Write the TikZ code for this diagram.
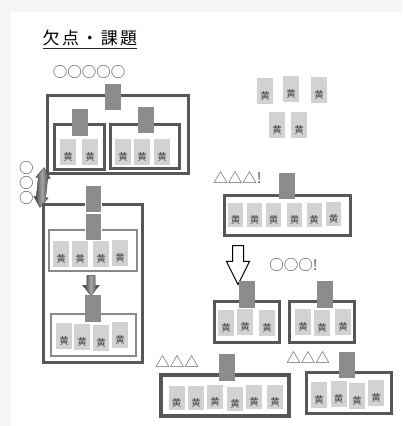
\documentclass[tikz,border=0pt]{standalone}
\usepackage{fontspec}
\setmainfont{Noto Sans CJK JP}
\usepackage{xcolor}
\usepackage{tikz}
\usetikzlibrary{shapes.arrows, positioning}

\definecolor{framegray}{HTML}{575757}
\definecolor{thingray}{HTML}{8A8A8A}
\definecolor{tabgray}{HTML}{8C8C8C}
\definecolor{cardgray}{HTML}{D2D2D2}
\definecolor{inkgray}{HTML}{404040}

\begin{document}
\begin{tikzpicture}[x=1pt, y=-1pt]
    \tikzstyle{box} = [rectangle, draw=framegray, line width=3pt, inner sep=0pt]
    \tikzstyle{subbox} = [rectangle, draw=thingray, line width=2.2pt, inner sep=0pt]
    \tikzstyle{tab} = [rectangle, fill=tabgray, minimum width=16, minimum height=26, inner sep=0pt]
    \tikzstyle{card} = [rectangle, fill=cardgray, minimum width=16, minimum height=26, inner sep=0pt, text=inkgray, font=\fontsize{9.5}{10}\selectfont, text height=17pt, text depth=1pt]
    \tikzstyle{remark} = [text=black!70, inner sep=0pt, font=\fontsize{14.5}{15}\selectfont]
    \tikzstyle{shadedarrow} = [draw=black!75, line width=0.4pt, left color=black!80, right color=black!80, middle color=black!35]

    % background
    \fill[black!4] (0,0) rectangle (402,426);
    \fill[white] (11,12) rectangle (402,426);
    \useasboundingbox (0,0) rectangle (402,426);

    % title
    \node [inner sep=0pt, font=\fontsize{17}{17}\selectfont\addfontfeatures{LetterSpace=14}] (title) at (90,38) {欠点・課題};
    \draw [black!85, line width=0.7pt] ([yshift=-4pt]title.base west) -- ([yshift=-4pt]title.base east);

    % group with two sub groups
    \node [remark] (circ5) at (89,72) {○○○○○};
    \node [box, minimum width=141, minimum height=78] (grp) at (117.5,134) {};
    \node [tab] (grptab) at (113,97) {};
    \node [box, minimum width=50, minimum height=45] (grpL) at (79,146.5) {};
    \node [tab, minimum height=27] (grpLtab) at (80,122.5) {};
    \node [card] (gl1) at (68,152) {黄};
    \node [card] (gl2) at (90,152) {黄};
    \node [box, minimum width=69, minimum height=44] (grpR) at (144.5,146) {};
    \node [tab] (grpRtab) at (146,120) {};
    \node [card] (gr1) at (123,152) {黄};
    \node [card] (gr2) at (142,152) {黄};
    \node [card] (gr3) at (162,152) {黄};

    % swap
    \node [remark, align=center] (circ3) at (26.5,182.5) {○\\○\\○};
    \node [double arrow, shadedarrow, rotate=84, minimum height=40, inner sep=4.5pt, double arrow head extend=2.5pt, double arrow tip angle=70] (swap) at (42,187.5) {};

    % stacked group
    \node [box, minimum width=99, minimum height=158] (stack) at (92.5,283) {};
    \node [tab, minimum height=27, draw=white, line width=0.8pt] (stacktab) at (93,198.5) {};
    \node [subbox, minimum width=88, minimum height=41] (stackA) at (93,250.5) {};
    \node [tab, minimum height=27, draw=white, line width=0.8pt] (stackAtab) at (93,226.5) {};
    \node [card] (sa1) at (61,254) {黄};
    \node [card] (sa2) at (80,254) {黄};
    \node [card] (sa3) at (101,254) {黄};
    \node [card] (sa4) at (120,253) {黄};
    \node [single arrow, shadedarrow, rotate=-90, minimum height=20, inner sep=4pt, single arrow head extend=4pt, single arrow tip angle=77] (move) at (91,283) {};
    \node [subbox, minimum width=85, minimum height=42] (stackB) at (93.5,335) {};
    \node [tab, minimum height=27] (stackBtab) at (93,308.5) {};
    \node [card] (sb1) at (64,336) {黄};
    \node [card] (sb2) at (82,337) {黄};
    \node [card] (sb3) at (101,338) {黄};
    \node [card] (sb4) at (120,335) {黄};

    % loose cards
    \node [card] (l1) at (265,91) {黄};
    \node [card] (l2) at (291,89) {黄};
    \node [card] (l3) at (319,90) {黄};
    \node [card] (l4) at (277,125) {黄};
    \node [card] (l5) at (299,125) {黄};

    % row of six
    \node [remark] (tri1) at (237.5,178) {△△△!};
    \node [box, minimum width=126, minimum height=40] (six) at (287,215) {};
    \node [tab] (sixtab) at (287,186) {};
    \node [card, minimum width=15, minimum height=24] (s1) at (235.5,215) {黄};
    \node [card, minimum width=15, minimum height=24] (s2) at (254.5,215) {黄};
    \node [card, minimum width=15, minimum height=24] (s3) at (273.5,215) {黄};
    \node [card, minimum width=15, minimum height=24] (s4) at (294.5,215) {黄};
    \node [card, minimum width=15, minimum height=24] (s5) at (314,215) {黄};
    \node [card, minimum width=15, minimum height=24] (s6) at (333.5,214) {黄};

    % split
    \node [single arrow, draw=black, fill=white, line width=1pt, rotate=-90, minimum height=39, inner sep=5pt, single arrow head extend=6pt, single arrow tip angle=53] (split) at (238,259.5) {};
    \node [remark] (circ3b) at (293.5,265) {○○○!};
    \node [box, minimum width=65, minimum height=41] (half1) at (246.5,321.5) {};
    \node [tab, minimum height=27] (half1tab) at (247,294.5) {};
    \node [card] (h1) at (226,323) {黄};
    \node [card] (h2) at (245,322) {黄};
    \node [card] (h3) at (267,323) {黄};
    \node [box, minimum width=65, minimum height=41] (half2) at (321.5,321.5) {};
    \node [tab, minimum height=27] (half2tab) at (325,294.5) {};
    \node [card] (h4) at (303,322) {黄};
    \node [card] (h5) at (322,323) {黄};
    \node [card] (h6) at (343,322) {黄};

    % bottom rows
    \node [remark] (tri2) at (177,362) {△△△};
    \node [box, line width=3.6pt, minimum width=128, minimum height=41] (low1) at (225,395.5) {};
    \node [tab, minimum height=27] (low1tab) at (227,367.5) {};
    \node [card, minimum height=24] (b1) at (176.5,398) {黄};
    \node [card, minimum height=24] (b2) at (196,398) {黄};
    \node [card, minimum height=24] (b3) at (215,397) {黄};
    \node [card, minimum height=24] (b4) at (235,399) {黄};
    \node [card, minimum height=24] (b5) at (254,397) {黄};
    \node [card, minimum height=24] (b6) at (275,397) {黄};
    \node [remark] (tri3) at (308,357.5) {△△△};
    \node [box, minimum width=85, minimum height=41] (low2) at (348.5,392.5) {};
    \node [tab] (low2tab) at (347,365) {};
    \node [card] (b7) at (319,395) {黄};
    \node [card] (b8) at (338.5,394) {黄};
    \node [card] (b9) at (357,396) {黄};
    \node [card] (b10) at (376,393) {黄};
\end{tikzpicture}
\end{document}
